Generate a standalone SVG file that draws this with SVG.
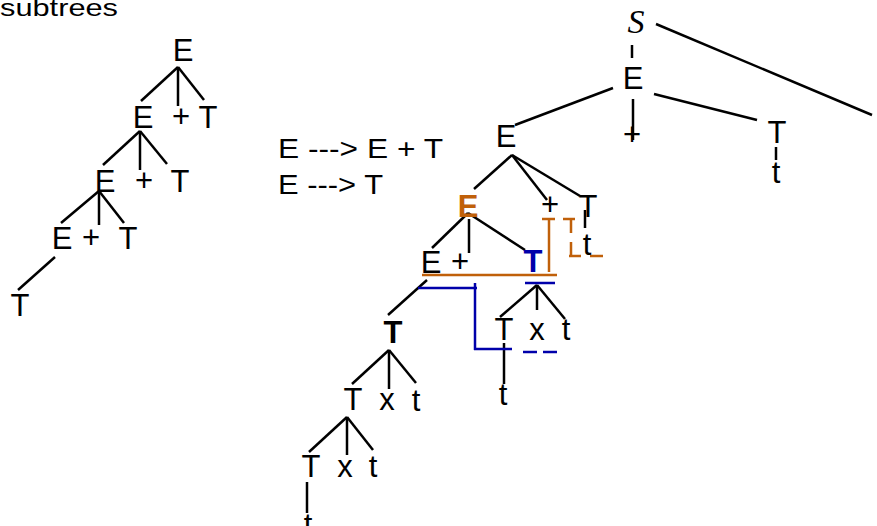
<svg xmlns="http://www.w3.org/2000/svg" width="877" height="526" viewBox="0 0 877 526">
<style>
text{font-family:"Liberation Sans",Arial,sans-serif;font-size:31px;fill:#000;text-anchor:middle}
.b{font-weight:bold}
.or{fill:#c0600a}
.bl{fill:#0000aa}
.s{font-family:"Liberation Serif","Times New Roman",serif;font-style:italic;font-size:34px}
line,polyline{stroke:#000;stroke-width:2.5;fill:none}
.ol{stroke:#c0600a}
.blu{stroke:#0000aa}
</style>
<rect width="877" height="526" fill="#fff"/>
<text x="0" y="16" style="font-size:24px;text-anchor:start" textLength="118" lengthAdjust="spacingAndGlyphs">subtrees</text>
<g id="rules">
<text x="278" y="158" style="font-size:28px;text-anchor:start" textLength="165" lengthAdjust="spacingAndGlyphs">E ---&gt; E + T</text>
<text x="278" y="194" style="font-size:28px;text-anchor:start" textLength="105" lengthAdjust="spacingAndGlyphs">E ---&gt; T</text>
</g>
<g id="connectors">
<line x1="178" y1="67" x2="141" y2="101"/><line x1="178" y1="67" x2="178" y2="106"/><line x1="178" y1="67" x2="204" y2="100"/>
<line x1="140" y1="131" x2="103" y2="165"/><line x1="140" y1="131" x2="140" y2="170"/><line x1="140" y1="131" x2="167" y2="164"/>
<line x1="99" y1="191" x2="61" y2="223"/><line x1="99" y1="191" x2="99" y2="225"/><line x1="99" y1="191" x2="124" y2="223"/>
<line x1="55" y1="257" x2="18" y2="290"/>
<line x1="656" y1="24" x2="872" y2="115"/>
<line x1="632" y1="45" x2="632" y2="58"/>
<line x1="613" y1="88" x2="515" y2="125"/>
<line x1="633" y1="99" x2="633" y2="140"/>
<line x1="654" y1="94" x2="757" y2="120"/>
<line x1="776" y1="147" x2="776" y2="160"/>
<line x1="512" y1="155" x2="474" y2="189"/><line x1="512" y1="155" x2="547" y2="200"/><line x1="512" y1="155" x2="580" y2="196"/>
<line x1="585" y1="210" x2="585" y2="228"/>
<line x1="468" y1="213" x2="432" y2="248"/><line x1="469" y1="219" x2="469" y2="253"/><line x1="468" y1="213" x2="525" y2="250"/>
<line x1="537" y1="285" x2="500" y2="317"/><line x1="537" y1="285" x2="537" y2="310"/><line x1="537" y1="285" x2="565" y2="319"/>
<line x1="504" y1="343" x2="504" y2="384"/>
<line x1="427" y1="280" x2="388" y2="315"/>
<line x1="389" y1="350" x2="352" y2="384"/><line x1="389" y1="350" x2="389" y2="389"/><line x1="389" y1="350" x2="416" y2="383"/>
<line x1="347" y1="417" x2="309" y2="452"/><line x1="347" y1="417" x2="347" y2="455"/><line x1="347" y1="417" x2="373" y2="450"/>
<line x1="307" y1="482" x2="307" y2="513"/>
</g>
<g id="orange-marks">
<line class="ol" x1="542" y1="219" x2="555" y2="219"/>
<line class="ol" x1="549" y1="219" x2="549" y2="272"/>
<line class="ol" x1="563" y1="219" x2="575" y2="219"/>
<line class="ol" x1="571" y1="219" x2="571" y2="256" stroke-dasharray="14,9"/>
<line class="ol" x1="569" y1="256" x2="581" y2="256"/>
<line class="ol" x1="590" y1="256" x2="603" y2="256"/>
<line class="ol" x1="422" y1="275" x2="557" y2="275"/>
</g>
<g id="blue-marks">
<line class="blu" x1="418" y1="288" x2="477" y2="288"/>
<line class="blu" x1="475" y1="283" x2="475" y2="350"/>
<line class="blu" x1="474" y1="349" x2="512" y2="349"/>
<line class="blu" x1="523" y1="352" x2="537" y2="352"/>
<line class="blu" x1="543" y1="352" x2="557" y2="352"/>
<line class="blu" x1="525" y1="283" x2="555" y2="283"/>
</g>
<g id="left-tree">
<text x="183" y="61">E</text>
<text x="143" y="128">E</text><text x="181" y="127">+</text><text x="208" y="128">T</text>
<text x="105" y="192">E</text><text x="144" y="191">+</text><text x="180" y="192">T</text>
<text x="62" y="249">E</text><text x="91" y="248">+</text><text x="128" y="249">T</text>
<text x="20" y="316">T</text>
</g>
<g id="n-S"><text class="s" x="636" y="33">S</text></g>
<g id="n-E0"><text x="633" y="89">E</text></g>
<g id="n-plus0"><text x="632" y="145">+</text></g>
<g id="n-T0"><text x="777" y="143">T</text></g>
<g id="n-t0"><text x="776" y="183">t</text></g>
<g id="n-E1"><text x="506" y="147">E</text></g>
<g id="n-E2"><text class="b or" x="468" y="217">E</text></g>
<g id="n-plus1"><text x="550" y="215">+</text></g>
<g id="n-T1"><text x="588" y="217">T</text></g>
<g id="n-t1"><text x="587" y="255">t</text></g>
<g id="n-E3"><text x="431" y="273">E</text></g>
<g id="n-plus2"><text x="460" y="272">+</text></g>
<g id="n-T2"><text class="b bl" x="533" y="272">T</text></g>
<g id="n-T3"><text x="504" y="340">T</text><text x="537" y="340">x</text><text x="566" y="340">t</text></g>
<g id="n-t3"><text x="503" y="405">t</text></g>
<g id="n-T4"><text class="b" x="393" y="343">T</text></g>
<g id="n-T5"><text x="353" y="410">T</text><text x="387" y="410">x</text><text x="416" y="411">t</text></g>
<g id="n-T6"><text x="311" y="477">T</text><text x="345" y="477">x</text><text x="373" y="477">t</text></g>
<g id="n-t6"><text x="308" y="535">t</text></g>
</svg>
